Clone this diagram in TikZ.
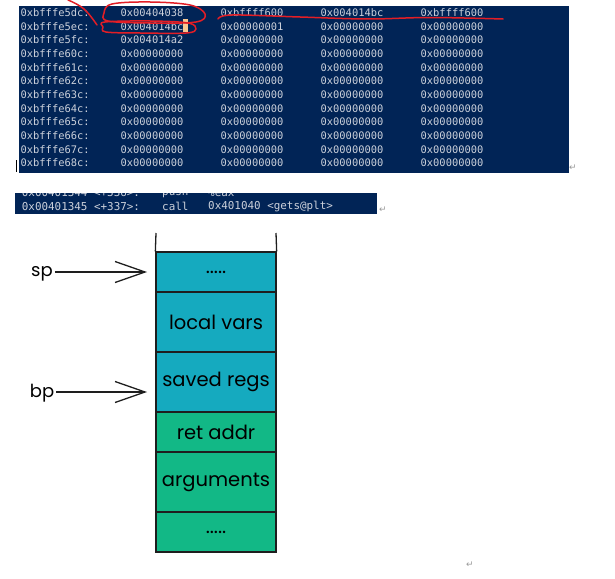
\documentclass[tikz,border=0pt]{standalone}
\usepackage{fontspec}
\usetikzlibrary{arrows.meta}
\newfontfamily\consfont{DejaVu Sans Mono}
\newfontfamily\handfont{Poppins}
\newfontfamily\symfont{DejaVu Sans}
\definecolor{psblue}{RGB}{1,36,86}
\definecolor{memtext}{RGB}{204,209,219}
\definecolor{penred}{RGB}{226,30,38}
\definecolor{cursorpeach}{RGB}{246,200,146}
\definecolor{stackcyan}{RGB}{21,170,191}
\definecolor{stackgreen}{RGB}{18,184,134}
\definecolor{inkdark}{RGB}{30,30,30}
\tikzset{
    memcell/.style={anchor=west, inner sep=0pt, text=memtext, font=\consfont\fontsize{10.4}{12}\selectfont},
    asmcell/.style={anchor=west, inner sep=0pt, text=memtext, font=\consfont\fontsize{10.9}{12}\selectfont},
    penstroke/.style={draw=penred, line width=1.5pt, line cap=round, line join=round},
    stackcell/.style={draw=inkdark, line width=1.3pt, minimum width=120pt, inner sep=0pt, font=\handfont\fontsize{19.5}{20}\selectfont},
    pointer/.style={draw=inkdark, line width=1.3pt, -{Straight Barb[length=30pt, width=21pt, line width=1.3pt]}, shorten >=9pt},
    reglabel/.style={inner sep=2pt, font=\handfont\fontsize{18}{18}\selectfont},
    retmark/.style={inner sep=0pt, text=gray!80, font=\symfont\fontsize{9}{9}\selectfont}
}

\begin{document}
\begin{tikzpicture}[x=1pt, y=-1pt]
    \useasboundingbox (0,0) rectangle (615,578);

    \fill[psblue] (19,6) rectangle (569,173);
    \foreach \adr/\va/\vb/\vc/\vd [count=\r] in {
        5dc/00404038/bffff600/004014bc/bffff600,
        5ec/004014bc/00000001/00000000/00000000,
        5fc/004014a2/00000000/00000000/00000000,
        60c/00000000/00000000/00000000/00000000,
        61c/00000000/00000000/00000000/00000000,
        62c/00000000/00000000/00000000/00000000,
        63c/00000000/00000000/00000000/00000000,
        64c/00000000/00000000/00000000/00000000,
        65c/00000000/00000000/00000000/00000000,
        66c/00000000/00000000/00000000/00000000,
        67c/00000000/00000000/00000000/00000000,
        68c/00000000/00000000/00000000/00000000} {
        \node (adr\r) [memcell] at (20.5, {12.7+13.66*(\r-1)}) {0xbfffe\adr:};
        \node (va\r) [memcell] at (120.5, {12.7+13.66*(\r-1)}) {0x\va};
        \node (vb\r) [memcell] at (220.5, {12.7+13.66*(\r-1)}) {0x\vb};
        \node (vc\r) [memcell] at (320.5, {12.7+13.66*(\r-1)}) {0x\vc};
        \node (vd\r) [memcell] at (420.5, {12.7+13.66*(\r-1)}) {0x\vd};
    }
    \fill[cursorpeach] (183,19.5) rectangle (188,32);
    \draw[line width=0.8pt] (16,160) -- (16,172);
    \node (ret1) [retmark] at (573,168) {↵};

    \draw[penstroke] plot[smooth cycle, tension=0.6] coordinates {(104,13) (112,4) (150,2) (190,5) (205,14) (196,22) (150,23) (108,21)};
    \draw[penstroke] plot[smooth cycle, tension=0.6] coordinates {(105,22) (150,21) (188,23) (196,29) (186,33) (140,33) (106,32) (103,27)};
    \draw[penstroke] plot[smooth, tension=0.7] coordinates {(68,0) (84,9) (97,25)};
    \draw[penstroke] plot[smooth, tension=0.6] coordinates {(218,19) (232,15) (300,17) (367,19) (430,17.5) (503,19)};

    \begin{scope}
        \clip (15,193) rectangle (377,214);
        \fill[psblue] (15,193) rectangle (377,214);
        \node (asm0) [asmcell] at (21.7, 192.5) {0x00401344 <+336>:};
        \node (op0) [asmcell] at (162, 192.5) {push};
        \node (arg0) [asmcell] at (208, 192.5) {\%eax};
    \end{scope}
    \node (asm1) [asmcell] at (21.7, 206.7) {0x00401345 <+337>:};
    \node (op1) [asmcell] at (162, 206.7) {call};
    \node (arg1) [asmcell] at (208, 206.7) {0x401040 <gets@plt>};
    \node (ret2) [retmark] at (383,210) {↵};

    \node (dots1) [stackcell, fill=stackcyan, minimum height=40pt] at (216, 272) {.....};
    \node (locals) [stackcell, fill=stackcyan, minimum height=60pt] at (216, 322) {local vars};
    \node (savedregs) [stackcell, fill=stackcyan, minimum height=60pt] at (216, 382) {saved regs};
    \node (retaddr) [stackcell, fill=stackgreen, minimum height=40pt] at (216, 432) {ret addr};
    \node (args) [stackcell, fill=stackgreen, minimum height=60pt] at (216, 482) {arguments};
    \node (dots2) [stackcell, fill=stackgreen, minimum height=40pt] at (216, 532) {.....};
    \coordinate (topleft) at (156, 233);
    \coordinate (topright) at (276, 233);
    \draw[draw=inkdark, line width=1.3pt] (topleft) -- (dots1.north west);
    \draw[draw=inkdark, line width=1.3pt] (topright) -- (dots1.north east);

    \node (sp) [reglabel] at (42, 274) {sp};
    \node (bp) [reglabel] at (42, 393) {bp};
    \coordinate (sptip) at (156, 272);
    \coordinate (bptip) at (156, 392);
    \draw[pointer] (sp.east |- sptip) -- (sptip);
    \draw[pointer] (bp.east |- bptip) -- (bptip);
    \node (ret3) [retmark] at (470,565) {↵};
\end{tikzpicture}
\end{document}
